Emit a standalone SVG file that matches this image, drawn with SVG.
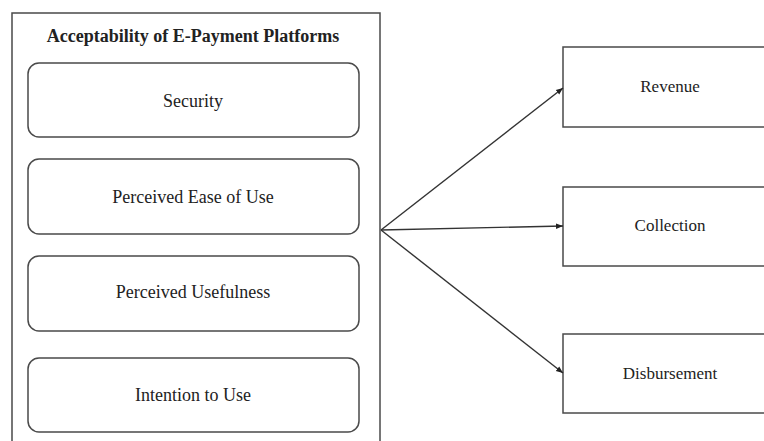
<svg xmlns="http://www.w3.org/2000/svg" width="764" height="441" viewBox="0 0 764 441">
<style>
.box{fill:#fff;stroke:#4a4a4a;stroke-width:1.5}
.t{font-family:"Liberation Serif","Times New Roman",serif;fill:#222;text-anchor:middle}
.l{font-size:18px}
.r{font-size:17px}
.conn{stroke:#333;stroke-width:1.4;fill:none;marker-end:url(#ah)}
</style>
<defs>
<marker id="ah" viewBox="0 0 10 10" refX="10" refY="5" markerWidth="7" markerHeight="7" markerUnits="userSpaceOnUse" orient="auto">
<path d="M0,1 L10,5 L0,9 Z" fill="#222"/>
</marker>
</defs>
<rect width="764" height="441" fill="#fff"/>
<g id="container">
<rect class="box" x="12" y="13" width="368" height="440"/>
<text class="t" x="193" y="42" font-size="18" font-weight="bold">Acceptability of E-Payment Platforms</text>
</g>
<g id="security">
<rect class="box" x="28" y="63" width="331" height="74" rx="11"/>
<text class="t l" x="193" y="107">Security</text>
</g>
<g id="ease">
<rect class="box" x="28" y="159" width="331" height="75" rx="11"/>
<text class="t l" x="193" y="203">Perceived Ease of Use</text>
</g>
<g id="usefulness">
<rect class="box" x="28" y="256" width="331" height="75" rx="11"/>
<text class="t l" x="193" y="298">Perceived Usefulness</text>
</g>
<g id="intention">
<rect class="box" x="28" y="358" width="331" height="74" rx="11"/>
<text class="t l" x="193" y="401">Intention to Use</text>
</g>
<g id="revenue">
<rect class="box" x="563" y="47" width="210" height="80"/>
<text class="t r" x="670" y="92">Revenue</text>
</g>
<g id="collection">
<rect class="box" x="563" y="187" width="210" height="79"/>
<text class="t r" x="670" y="231">Collection</text>
</g>
<g id="disbursement">
<rect class="box" x="563" y="334" width="210" height="79"/>
<text class="t r" x="670" y="379">Disbursement</text>
</g>
<g id="connectors">
<line class="conn" x1="381" y1="230" x2="563" y2="88"/>
<line class="conn" x1="381" y1="230" x2="563" y2="226"/>
<line class="conn" x1="381" y1="230" x2="563" y2="373"/>
</g>
</svg>
